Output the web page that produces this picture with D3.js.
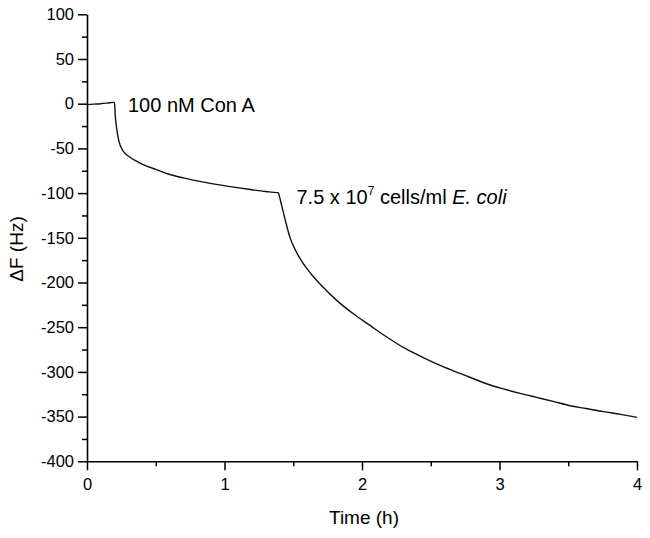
<!DOCTYPE html>
<html>
<head>
<meta charset="utf-8">
<script src="https://cdn.jsdelivr.net/npm/d3@7"></script>
<style>
  body { margin: 0; background: #fff; }
  svg { display: block; font-family: "Liberation Sans", Arial, sans-serif; }
</style>
</head>
<body>
<script>
// Time (h) and frequency shift (Hz)
const time = [0, 0.05, 0.1, 0.15, 0.19, 0.2, 0.205, 0.216, 0.228, 0.24, 0.255, 0.27, 0.30, 0.35, 0.40, 0.50,
    0.59, 0.70, 0.83, 0.95, 1.08, 1.2, 1.3, 1.385, 1.391, 1.40, 1.416, 1.445, 1.476, 1.52, 1.573,
    1.63, 1.695, 1.816, 1.937, 2.058, 2.18, 2.30, 2.42, 2.543, 2.66, 2.785, 2.9, 3.028, 3.15,
    3.27, 3.39, 3.513, 3.63, 3.755, 3.88, 4.0];
const deltaF = [-1, -0.5, 0, 0.8, 1.5, 1.5, -12, -28, -39, -46, -51, -54.5, -58.5, -63.5, -67.5, -73.5,
    -78.6, -83, -87.2, -90.5, -93.6, -96.2, -98.2, -99.5, -99.5, -104, -114, -132, -149.5, -165, -179,
    -190.5, -201.7, -220, -235, -248, -261, -272.6, -282, -291, -298.5, -306, -313, -319, -324,
    -328.5, -333, -337.8, -341, -344.5, -347.5, -350.8];

const xTicks = [0, 1, 2, 3, 4];
const xMinor = [0.5, 1.5, 2.5, 3.5];
const yTicks = [100, 50, 0, -50, -100, -150, -200, -250, -300, -350, -400];
const yMinor = [75, 25, -25, -75, -125, -175, -225, -275, -325, -375];

const width = 650;
const height = 538;
const margin = {top: 14.3, right: 13, bottom: 76.7, left: 87};

const x = d3.scaleLinear([0, 4], [margin.left, width - margin.right]);
const y = d3.scaleLinear([-400, 100], [height - margin.bottom, margin.top]);

const svg = d3.select("body").append("svg")
    .attr("width", width)
    .attr("height", height)
    .attr("viewBox", [0, 0, width, height]);

// minor ticks first, majors on top
svg.append("g")
    .attr("transform", `translate(0,${y(-400)})`)
    .call(d3.axisBottom(x).tickValues(xMinor).tickSize(5).tickFormat(""))
    .call(g => g.select(".domain").remove())
    .call(g => g.selectAll("line").attr("stroke-width", 1.5));

svg.append("g")
    .attr("transform", `translate(${x(0)},0)`)
    .call(d3.axisLeft(y).tickValues(yMinor).tickSize(5).tickFormat(""))
    .call(g => g.select(".domain").remove())
    .call(g => g.selectAll("line").attr("stroke-width", 1.5));

svg.append("g")
    .attr("transform", `translate(0,${y(-400)})`)
    .call(d3.axisBottom(x).tickValues(xTicks).tickSize(9).tickSizeOuter(0).tickPadding(8)
        .tickFormat(d => String(d)))
    .call(g => g.select(".domain").attr("stroke-width", 1.6))
    .call(g => g.selectAll("line").attr("stroke-width", 1.5))
    .call(g => g.selectAll("text").attr("font-size", 16.5).attr("fill", "#000")
        .attr("font-family", "'Liberation Sans', Arial, sans-serif"));

svg.append("g")
    .attr("transform", `translate(${x(0)},0)`)
    .call(d3.axisLeft(y).tickValues(yTicks).tickSize(9).tickSizeOuter(0).tickPadding(4)
        .tickFormat(d => String(d)))
    .call(g => g.select(".domain").attr("stroke-width", 1.6))
    .call(g => g.selectAll("line").attr("stroke-width", 1.5))
    .call(g => g.selectAll("text").attr("font-size", 16.5).attr("fill", "#000")
        .attr("font-family", "'Liberation Sans', Arial, sans-serif"));

// trace
const line = d3.line()
    .x(i => x(time[i]))
    .y(i => y(deltaF[i]))
    .curve(d3.curveMonotoneX);

svg.append("path")
    .attr("d", line(d3.range(time.length)))
    .attr("fill", "none")
    .attr("stroke", "#111")
    .attr("stroke-width", 1.4);

// annotations
svg.append("text")
    .attr("x", 128)
    .attr("y", 111.5)
    .attr("font-size", 20)
    .text("100 nM Con A");

const ecoli = svg.append("text")
    .attr("x", 296.5)
    .attr("y", 204)
    .attr("font-size", 20);
ecoli.append("tspan").text("7.5 x 10");
ecoli.append("tspan").attr("font-size", 12).attr("dy", -9).text("7");
ecoli.append("tspan").attr("dy", 9).text(" cells/ml ");
ecoli.append("tspan").attr("font-style", "italic").text("E. coli");

// axis titles
svg.append("text")
    .attr("x", (x(0) + x(4)) / 2 + 2)
    .attr("y", 524)
    .attr("text-anchor", "middle")
    .attr("font-size", 19)
    .text("Time (h)");

svg.append("text")
    .attr("transform", `translate(23,249) rotate(-90)`)
    .attr("text-anchor", "middle")
    .attr("font-size", 19)
    .text("ΔF (Hz)");
</script>
</body>
</html>
